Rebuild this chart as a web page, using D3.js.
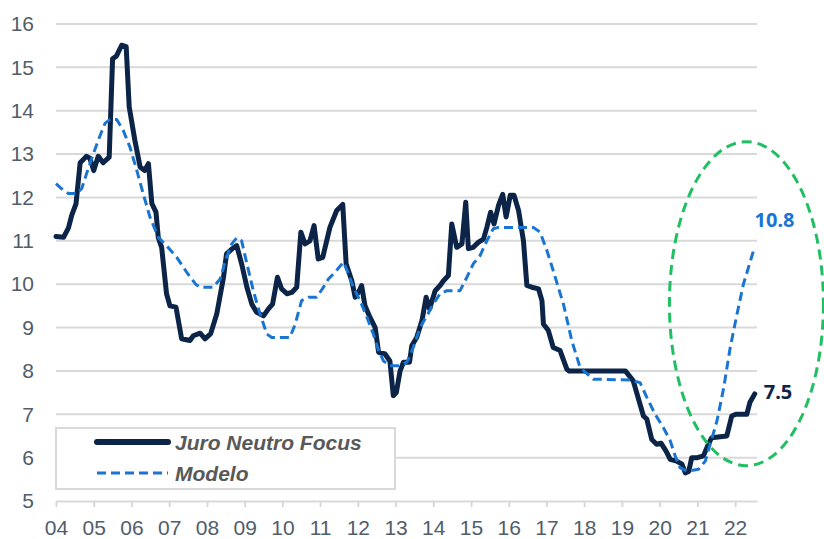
<!DOCTYPE html>
<html>
<head>
<meta charset="utf-8">
<script src="https://cdn.jsdelivr.net/npm/d3@7"></script>
<style>
  html, body { margin: 0; padding: 0; background: #fff; }
  svg { display: block; }
  .tick text { font-family: "Liberation Sans", Arial, sans-serif; font-size: 21px; fill: #505d6b; }
</style>
</head>
<body>
<svg id="chart" width="824" height="539"></svg>
<script>
// Juro Neutro Focus (decimal year -> %)
var focusDates = [2004.00, 2004.20, 2004.33, 2004.42, 2004.53, 2004.64, 2004.81, 2004.90, 2005.00, 2005.12,
  2005.25, 2005.41, 2005.50, 2005.60, 2005.74, 2005.86, 2005.94, 2006.09, 2006.23, 2006.35,
  2006.45, 2006.54, 2006.65, 2006.71, 2006.80, 2006.93, 2007.02, 2007.18, 2007.33, 2007.55,
  2007.64, 2007.82, 2007.95, 2008.10, 2008.26, 2008.44, 2008.52, 2008.66, 2008.79, 2008.92,
  2009.06, 2009.19, 2009.32, 2009.50, 2009.63, 2009.74, 2009.87, 2009.98, 2010.12, 2010.25,
  2010.38, 2010.49, 2010.60, 2010.73, 2010.84, 2010.95, 2011.07, 2011.26, 2011.44, 2011.60,
  2011.69, 2011.84, 2011.93, 2012.04, 2012.10, 2012.19, 2012.32, 2012.46, 2012.55, 2012.72,
  2012.85, 2012.94, 2013.02, 2013.12, 2013.21, 2013.37, 2013.43, 2013.56, 2013.70, 2013.81,
  2013.90, 2014.05, 2014.18, 2014.27, 2014.40, 2014.49, 2014.62, 2014.76, 2014.86, 2014.93,
  2015.06, 2015.20, 2015.33, 2015.42, 2015.52, 2015.61, 2015.73, 2015.84, 2015.93, 2016.04,
  2016.14, 2016.26, 2016.39, 2016.48, 2016.61, 2016.79, 2016.88, 2016.92, 2017.05, 2017.18,
  2017.36, 2017.54, 2017.60, 2019.09, 2019.30, 2019.48, 2019.57, 2019.66, 2019.79, 2019.92,
  2020.04, 2020.17, 2020.28, 2020.45, 2020.59, 2020.68, 2020.77, 2020.85, 2021.00, 2021.16,
  2021.29, 2021.38, 2021.78, 2021.91, 2022.02, 2022.31, 2022.39, 2022.52];
var focusValues = [11.10, 11.08, 11.30, 11.60, 11.85, 12.80, 12.95, 12.90, 12.62, 12.95,
  12.80, 12.93, 15.20, 15.26, 15.51, 15.48, 14.09, 13.32, 12.70, 12.62,
  12.78, 11.86, 11.66, 11.08, 10.85, 9.78, 9.50, 9.47, 8.74, 8.70,
  8.81, 8.87, 8.74, 8.86, 9.31, 10.16, 10.70, 10.81, 10.89, 10.47,
  9.93, 9.54, 9.35, 9.27, 9.43, 9.54, 10.16, 9.89, 9.78, 9.81,
  9.93, 11.20, 10.93, 11.00, 11.35, 10.58, 10.62, 11.31, 11.70, 11.84,
  10.47, 10.08, 9.70, 9.85, 9.97, 9.50, 9.24, 9.00, 8.43, 8.39,
  8.23, 7.43, 7.50, 8.00, 8.20, 8.20, 8.58, 8.77, 9.16, 9.70,
  9.43, 9.85, 9.97, 10.08, 10.20, 11.39, 10.85, 10.93, 11.89, 10.82,
  10.85, 10.97, 11.04, 11.31, 11.66, 11.39, 11.82, 12.07, 11.55, 12.05,
  12.05, 11.70, 11.00, 9.97, 9.93, 9.89, 9.62, 9.08, 8.93, 8.54,
  8.47, 8.04, 8.00, 8.00, 7.77, 7.23, 6.96, 6.89, 6.42, 6.31,
  6.33, 6.15, 5.96, 5.92, 5.85, 5.65, 5.68, 6.00, 6.00, 6.04,
  6.31, 6.46, 6.50, 6.96, 7.00, 7.00, 7.27, 7.47];

// Modelo
var modelDates = [2004.00, 2004.15, 2004.33, 2004.55, 2004.68, 2004.81, 2004.99, 2005.17, 2005.30, 2005.43,
  2005.61, 2005.78, 2005.96, 2006.14, 2006.31, 2006.49, 2006.71, 2006.93, 2007.20, 2007.46,
  2007.70, 2007.82, 2008.17, 2008.35, 2008.52, 2008.66, 2008.79, 2008.92, 2009.06, 2009.23,
  2009.41, 2009.59, 2009.72, 2010.20, 2010.34, 2010.51, 2010.69, 2010.91, 2011.09, 2011.22,
  2011.40, 2011.62, 2011.75, 2011.88, 2012.06, 2012.24, 2012.41, 2012.55, 2012.68, 2012.85,
  2013.08, 2013.30, 2013.47, 2013.65, 2013.83, 2014.00, 2014.18, 2014.36, 2014.71, 2014.89,
  2015.06, 2015.24, 2015.42, 2015.59, 2015.73, 2016.65, 2016.83, 2017.01, 2017.18, 2017.34,
  2017.45, 2017.67, 2017.89, 2018.24, 2019.22, 2019.48, 2019.66, 2019.88, 2020.10, 2020.28,
  2020.41, 2020.54, 2020.72, 2021.03, 2021.21, 2021.34, 2021.52, 2021.70, 2021.87, 2022.05,
  2022.22, 2022.49];
var modelValues = [12.32, 12.20, 12.09, 12.09, 12.20, 12.55, 13.01, 13.43, 13.71, 13.80,
  13.80, 13.55, 13.16, 12.63, 12.09, 11.55, 11.08, 10.89, 10.62, 10.28,
  10.00, 9.93, 9.93, 10.12, 10.62, 10.93, 11.07, 11.00, 10.47, 9.85,
  9.31, 8.85, 8.77, 8.77, 9.08, 9.62, 9.70, 9.70, 9.93, 10.12,
  10.28, 10.51, 10.24, 9.93, 9.62, 9.24, 8.85, 8.47, 8.23, 8.12,
  8.12, 8.20, 8.54, 9.00, 9.27, 9.54, 9.78, 9.85, 9.85, 10.16,
  10.47, 10.66, 11.00, 11.28, 11.31, 11.31, 11.20, 10.78, 10.31, 9.85,
  9.54, 8.70, 8.08, 7.81, 7.79, 7.73, 7.39, 7.00, 6.69, 6.39,
  6.04, 5.77, 5.69, 5.73, 5.92, 6.31, 6.85, 7.62, 8.54, 9.31,
  10.00, 10.78];

var yearTicks = d3.range(2004, 2023);
var yearLabels = ["04", "05", "06", "07", "08", "09", "10", "11", "12", "13",
  "14", "15", "16", "17", "18", "19", "20", "21", "22"];
var yTicks = [5, 6, 7, 8, 9, 10, 11, 12, 13, 14, 15, 16];
var seriesNames = ["Juro Neutro Focus", "Modelo"];

(function() {
  var svg = d3.select("#chart");
  var navy = "#0b2447", blue = "#1a75d2", green = "#20bf62", grid = "#d9d9d9";

  var x = d3.scaleLinear().domain([2004, 2022.58]).range([56, 757]);
  var y = d3.scaleLinear().domain([5, 16]).range([501, 24]);

  // gridlines
  svg.append("g").selectAll("line")
    .data(yTicks.slice(1))
    .enter().append("line")
    .attr("x1", x(2004)).attr("x2", x.range()[1])
    .attr("y1", function(d) { return y(d); })
    .attr("y2", function(d) { return y(d); })
    .attr("stroke", grid).attr("stroke-width", 2);

  // x axis
  var xAxis = d3.axisBottom(x)
    .tickValues(yearTicks)
    .tickFormat(function(d, i) { return yearLabels[i]; })
    .tickSize(6).tickPadding(13).tickSizeOuter(0);
  var gx = svg.append("g").attr("transform", "translate(0," + y(5) + ")").call(xAxis);
  gx.select(".domain").attr("stroke", grid).attr("stroke-width", 2);
  gx.selectAll(".tick line").attr("stroke", grid).attr("stroke-width", 2);

  // y axis
  var yAxis = d3.axisLeft(y).tickValues(yTicks).tickSize(0).tickPadding(22);
  var gy = svg.append("g").attr("transform", "translate(" + x(2004) + ",0)").call(yAxis);
  gy.select(".domain").remove();

  var line = d3.line()
    .x(function(d) { return x(d[0]); })
    .y(function(d) { return y(d[1]); });

  var focus = d3.zip(focusDates, focusValues);
  var model = d3.zip(modelDates, modelValues);

  svg.append("path").datum(focus)
    .attr("d", line)
    .attr("fill", "none").attr("stroke", navy).attr("stroke-width", 5)
    .attr("stroke-linejoin", "round").attr("stroke-linecap", "round");

  svg.append("path").datum(model)
    .attr("d", line)
    .attr("fill", "none").attr("stroke", blue).attr("stroke-width", 3)
    .attr("stroke-dasharray", "9,5").attr("stroke-linejoin", "round");

  // end labels
  var lastF = focus[focus.length - 1], lastM = model[model.length - 1];
  svg.append("text")
    .attr("x", x(lastM[0]) + 1).attr("y", y(lastM[1]) - 23)
    .attr("font-family", "'Noto Sans', sans-serif").attr("font-weight", "bold")
    .attr("font-size", 20).attr("fill", blue)
    .text(d3.format(".1f")(lastM[1]));
  svg.append("text")
    .attr("x", x(lastF[0]) + 9).attr("y", y(lastF[1]) + 5)
    .attr("font-family", "'Noto Sans', sans-serif").attr("font-weight", "bold")
    .attr("font-size", 20).attr("fill", navy)
    .text(d3.format(".1f")(Math.round(lastF[1] * 10) / 10));

  // highlight ellipse
  svg.append("ellipse")
    .attr("cx", x(2022.3)).attr("cy", y(9.55))
    .attr("rx", 77).attr("ry", 162)
    .attr("fill", "none").attr("stroke", green).attr("stroke-width", 3)
    .attr("stroke-dasharray", "10,6");

  // legend
  var lg = svg.append("g").attr("transform", "translate(56,428)");
  lg.append("rect").attr("width", 339).attr("height", 61)
    .attr("fill", "#fff").attr("stroke", grid).attr("stroke-width", 2);
  var items = lg.selectAll("g.item").data(seriesNames).enter().append("g")
    .attr("transform", function(d, i) { return "translate(0," + (14 + i * 31) + ")"; });
  items.append("line")
    .attr("x1", 41).attr("x2", 112).attr("y1", 0).attr("y2", 0)
    .attr("stroke", function(d, i) { return i === 0 ? navy : blue; })
    .attr("stroke-width", function(d, i) { return i === 0 ? 6 : 3; })
    .attr("stroke-dasharray", function(d, i) { return i === 0 ? null : "9,5"; })
    .attr("stroke-linecap", function(d, i) { return i === 0 ? "round" : "butt"; });
  items.append("text")
    .attr("x", 119).attr("y", 8)
    .attr("font-family", "'Liberation Sans', Arial, sans-serif")
    .attr("font-size", 21).attr("font-weight", "bold").attr("font-style", "italic")
    .attr("fill", "#595959")
    .text(function(d) { return d; });
})();
</script>
</body>
</html>
